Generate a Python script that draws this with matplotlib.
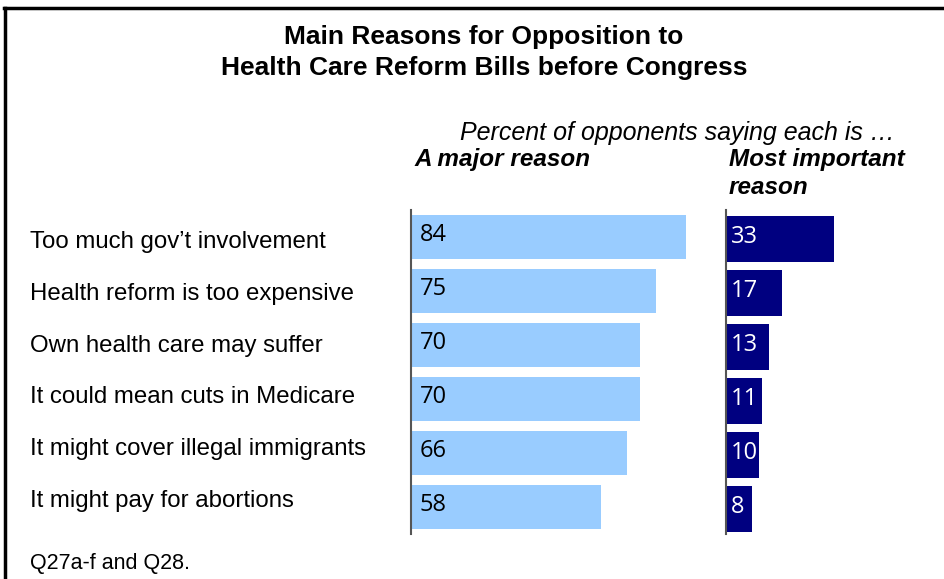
import numpy as np
import matplotlib.pyplot as plt
from matplotlib.lines import Line2D

# data
reasons = ["Too much gov\u2019t involvement",
           "Health reform is too expensive",
           "Own health care may suffer",
           "It could mean cuts in Medicare",
           "It might cover illegal immigrants",
           "It might pay for abortions"]
major_reason = [84, 75, 70, 70, 66, 58]
most_important = [33, 17, 13, 11, 10, 8]

W, H = 945, 579
fig = plt.figure(figsize=(W / 100, H / 100), dpi=100)
plt.rcParams['font.family'] = ['Liberation Sans', 'DejaVu Sans']


def fx(px):
    return px / W


def fy(py):
    return 1 - py / H


px_per_unit = 3.27
ax_top, ax_bot = 210, 534
row_px = (ax_bot - ax_top) / len(reasons)

# left panel: "A major reason"
ax1 = fig.add_axes([fx(411), fy(ax_bot), fx(90 * px_per_unit), (ax_bot - ax_top) / H])
# right panel: "Most important reason"
ax2 = fig.add_axes([fx(726), fy(ax_bot), fx(60 * px_per_unit), (ax_bot - ax_top) / H])

y = np.arange(len(reasons))
ax1.barh(y, major_reason, height=0.82, color='#99CCFF', align='center')
ax2.barh(y + 0.04, most_important, height=0.84, color='#000080', align='center')

for ax, xmax in ((ax1, 90), (ax2, 60)):
    ax.set_xlim(0, xmax)
    ax.set_ylim(len(reasons) - 0.5, -0.5)
    ax.set_xticks([])
    ax.set_yticks([])
    for s in ('top', 'right', 'bottom'):
        ax.spines[s].set_visible(False)
    ax.spines['left'].set_color('#555555')
    ax.spines['left'].set_linewidth(1.5)
    ax.patch.set_alpha(0)

# value labels sit a little above the bar centre
num_font = ['Open Sans', 'DejaVu Sans']
lift = 2 / row_px
for i, v in enumerate(major_reason):
    ax1.text(9 / px_per_unit, i - lift, str(v), ha='left', va='center', fontsize=17,
             family=num_font, color='black')
for i, v in enumerate(most_important):
    ax2.text(5 / px_per_unit, i + 0.04 - lift, str(v), ha='left', va='center', fontsize=17,
             family=num_font, color='white')

# category labels (their own slightly tighter row grid)
label_pitch = 51.8
for i, lab in enumerate(reasons):
    fig.text(fx(30), fy(242 + i * label_pitch), lab, ha='left', va='center', fontsize=17.3)

# title and headers
fig.text(fx(484), fy(37), "Main Reasons for Opposition to", ha='center', va='center',
         fontsize=19, fontweight='bold')
fig.text(fx(484), fy(68), "Health Care Reform Bills before Congress", ha='center', va='center',
         fontsize=19, fontweight='bold')
fig.text(fx(460), fy(133), "Percent of opponents saying each is \u2026", ha='left', va='center',
         fontsize=18, style='italic')
fig.text(fx(415), fy(160), "A major reason", ha='left', va='center',
         fontsize=17.5, style='italic', fontweight='bold')
fig.text(fx(729), fy(160), "Most important", ha='left', va='center',
         fontsize=17.5, style='italic', fontweight='bold')
fig.text(fx(729), fy(187), "reason", ha='left', va='center',
         fontsize=17.5, style='italic', fontweight='bold')

fig.text(fx(30), fy(563), "Q27a-f and Q28.", ha='left', va='center', fontsize=15.5)

# frame (left and top edges)
fig.add_artist(Line2D([fx(5), fx(5)], [fy(8), 0], color='black', linewidth=2.5,
                      transform=fig.transFigure))
fig.add_artist(Line2D([fx(4), 1], [fy(8), fy(8)], color='black', linewidth=2.5,
                      transform=fig.transFigure))

fig.savefig('out.png', dpi=100)
